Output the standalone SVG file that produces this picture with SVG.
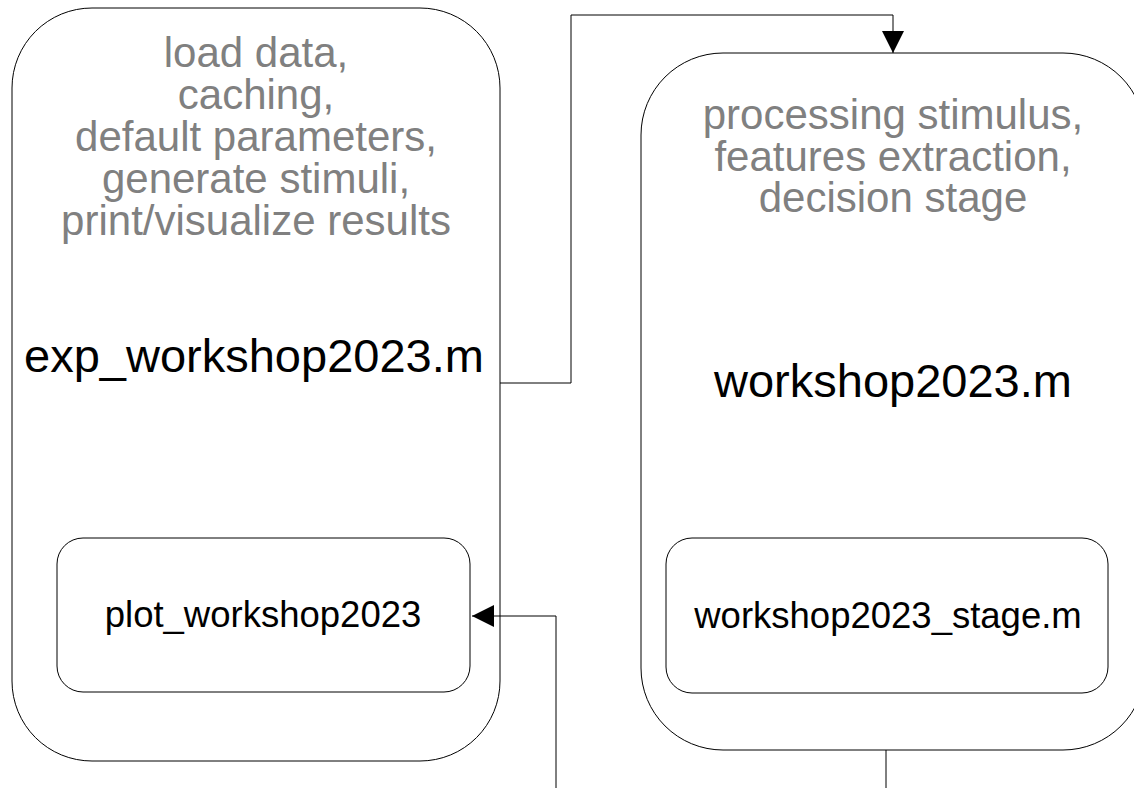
<svg xmlns="http://www.w3.org/2000/svg" width="1134" height="788" viewBox="0 0 1134 788">
<style>
.box{fill:#fff;stroke:#000;stroke-width:1}
.line{fill:none;stroke:#000;stroke-width:1}
.gray{font-family:"Liberation Sans",Arial,sans-serif;font-size:42px;fill:#808080;text-anchor:middle}
.big{font-family:"Liberation Sans",Arial,sans-serif;font-size:47px;fill:#000;text-anchor:middle}
.small{font-family:"Liberation Sans",Arial,sans-serif;font-size:36.5px;fill:#000;text-anchor:middle}
</style>
<defs>
<marker id="arr" markerWidth="22" markerHeight="22" refX="22" refY="11" orient="auto" markerUnits="userSpaceOnUse">
<path d="M0,0 L22,11 L0,22 Z" fill="#000"/>
</marker>
</defs>
<rect width="1134" height="788" fill="#fff"/>
<g id="exp_workshop2023">
<rect class="box" x="12" y="8" width="488" height="753" rx="80" ry="80"/>
<text class="gray" x="256" y="67">load data,</text>
<text class="gray" x="256" y="109">caching,</text>
<text class="gray" x="256" y="151">default parameters,</text>
<text class="gray" x="256" y="193">generate stimuli,</text>
<text class="gray" x="256" y="235">print/visualize results</text>
<text class="big" x="254" y="372">exp_workshop2023.m</text>
</g>
<g id="plot_workshop2023">
<rect class="box" x="57" y="538" width="413" height="154" rx="26" ry="26"/>
<text class="small" x="263" y="627">plot_workshop2023</text>
</g>
<g id="workshop2023">
<rect class="box" x="641" y="53" width="504" height="697" rx="82" ry="82"/>
<text class="gray" x="893" y="129">processing stimulus,</text>
<text class="gray" x="893" y="171">features extraction,</text>
<text class="gray" x="893" y="212">decision stage</text>
<text class="big" x="893" y="397">workshop2023.m</text>
</g>
<g id="workshop2023_stage">
<rect class="box" x="666" y="538" width="442" height="155" rx="26" ry="26"/>
<text class="small" x="888" y="628">workshop2023_stage.m</text>
</g>
<g id="connectors">
<path class="line" d="M500,383 H571 V15 H893 V53" marker-end="url(#arr)"/>
<path class="line" d="M556,788 V616 H472" marker-end="url(#arr)"/>
<path class="line" d="M886,750 V788"/>
</g>
</svg>
